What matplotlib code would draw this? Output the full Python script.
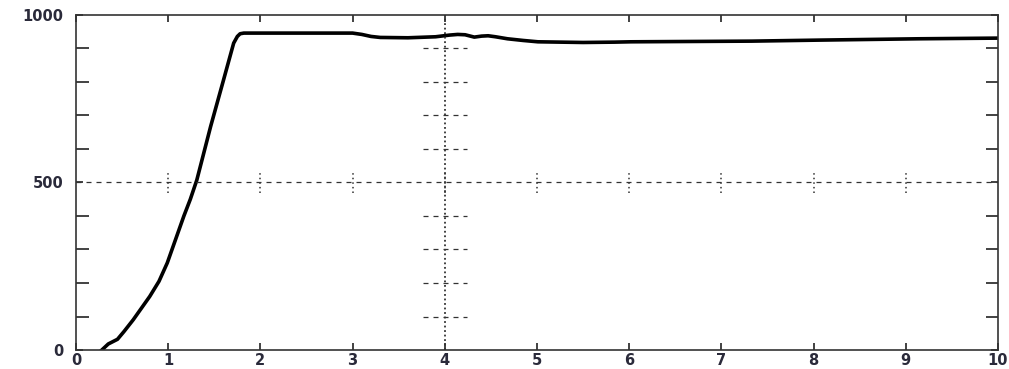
import numpy as np
import matplotlib
matplotlib.use("Agg")
import matplotlib.pyplot as plt

# values
t = [0.28, 0.35, 0.45, 0.52, 0.62, 0.71, 0.80, 0.90, 0.99, 1.08, 1.17, 1.24, 1.31, 1.46,
     1.60, 1.71, 1.75, 1.78, 1.82, 2.0, 2.5, 3.0, 3.1, 3.2, 3.30, 3.6, 3.9, 4.05, 4.14,
     4.22, 4.32, 4.40, 4.47, 4.55, 4.68, 4.85, 5.01, 5.5, 5.84, 6.02, 7.33, 8.05, 9.14, 10.0]
speed = [0, 18, 32, 55, 90, 125, 160, 205, 260, 330, 400, 450, 507, 667,
         806, 916, 936, 944, 946, 946, 946, 946, 942, 936, 933, 932, 935, 940, 942,
         941, 934, 937, 938, 935, 929, 924, 920, 918, 919, 920, 922, 925, 929, 931]

x_ticks = list(range(0, 11))
y_ticks = [0, 500, 1000]
y_minor = list(range(100, 1000, 100))

plt.rcParams['font.family'] = ['DejaVu Sans']

fig = plt.figure(figsize=(10.09, 3.69), dpi=100)
ax = fig.add_axes([76 / 1009, 19 / 369, 922 / 1009, 335 / 369])

ax.plot(t, speed, color="black", lw=2.6, solid_joinstyle="round")

ax.set_xlim(0, 10)
ax.set_ylim(0, 1000)
ax.set_xticks(x_ticks)
ax.set_yticks(y_ticks)
ax.set_yticks(y_minor, minor=True)
ax.tick_params(which="both", direction="in", top=True, right=True,
               labelsize=10.5, width=1.2, colors="#222222")
ax.tick_params(which="major", length=5)
ax.tick_params(which="minor", length=9)
ax.tick_params(axis="x", pad=2)
ax.tick_params(axis="y", pad=9)
for lbl in ax.get_xticklabels() + ax.get_yticklabels():
    lbl.set_fontweight("bold")
    lbl.set_color("#2a2a3a")

# grid line at 500 and crosshair marks
ax.axhline(500, color="#333333", lw=0.9, ls=(0, (4, 4)))
for xi in x_ticks[1:-1]:
    ax.plot([xi, xi], [470, 530], color="#333333", lw=1.1, ls=(0, (1, 2)))
ax.axvline(4, color="#333333", lw=1.3, ls=(0, (1, 1.5)))
for yi in y_minor:
    if yi != 500:
        ax.plot([3.76, 4.24], [yi, yi], color="#333333", lw=0.9, ls=(0, (4, 4)))

for s in ax.spines.values():
    s.set_linewidth(1.2)
    s.set_color("#333333")

fig.savefig("out.png", dpi=100)
